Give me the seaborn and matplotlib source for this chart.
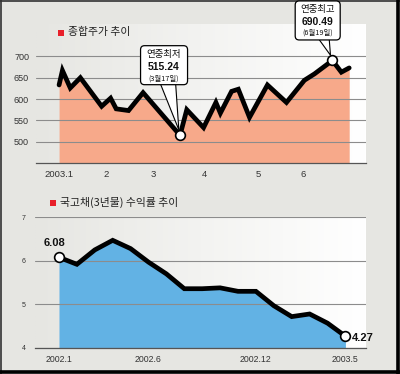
import numpy as np
import pandas as pd
import matplotlib
matplotlib.use('Agg')
import matplotlib.pyplot as plt
import seaborn as sns
from matplotlib.colors import LinearSegmentedColormap
from matplotlib.lines import Line2D
from matplotlib.patches import Rectangle, FancyBboxPatch
from matplotlib.transforms import IdentityTransform

# KOSPI 2003 (x = trading session counted from 2003.1.2)
kospi_session = [0, 1.5, 5, 9.5, 19, 23, 25.5, 31, 37.5, 52, 54, 57, 64.5, 70, 72,
                 77, 80, 85, 93, 101.5, 109.5, 114, 122, 126, 129.5]
kospi_value = [633, 667, 626, 650, 583, 602, 577, 573, 615, 527, 515.24, 575, 533, 592, 567,
               618, 623, 557, 633, 592, 644, 659, 690.49, 663, 673]
kospi_tick_pos = [0, 21, 42, 65, 89, 109]
kospi_tick_lab = ['2003.1', '2', '3', '4', '5', '6']
kospi_yticks = [500, 550, 600, 650, 700]

# 3-year treasury yield, monthly 2002.1 - 2003.5
bond_month = list(range(17))
bond_value = [6.08, 5.92, 6.25, 6.47, 6.28, 5.97, 5.70, 5.36, 5.36, 5.38, 5.30, 5.30,
              4.97, 4.72, 4.78, 4.57, 4.27]
bond_tick_pos = [0, 5, 11, 16]
bond_tick_lab = ['2002.1', '2002.6', '2002.12', '2003.5']
bond_yticks = [4, 5, 6, 7]

BG = '#e6e6e2'
NUM_FONT = ['Liberation Sans Narrow', 'Liberation Sans', 'DejaVu Sans']
KR_FONT = ['Noto Sans CJK KR', 'DejaVu Sans']

sns.set_style('white')
plt.rcParams['font.family'] = NUM_FONT

kospi = pd.DataFrame({'session': kospi_session, 'value': kospi_value})
bond = pd.DataFrame({'month': bond_month, 'value': bond_value})

fig = plt.figure(figsize=(4.0, 3.74), dpi=100, facecolor=BG)
grad = LinearSegmentedColormap.from_list('g', [BG, '#f3f3f1', '#ffffff'])


def px(x, y):
    return x / 400, 1 - y / 374


def base_axes(rect, xlim, ylim, yticks, tick_pos, tick_lab, xfs, yfs, ypad):
    ax = fig.add_axes(rect)
    ax.set_facecolor(BG)
    ax.imshow(np.linspace(0, 1, 256).reshape(1, -1), cmap=grad, extent=[0, 1, 0, 1],
              transform=ax.transAxes, aspect='auto', zorder=0)
    for s in ['top', 'left', 'right']:
        ax.spines[s].set_visible(False)
    ax.spines['bottom'].set_color('#555555')
    ax.spines['bottom'].set_linewidth(0.9)
    for v in yticks:
        ax.axhline(v, color='#8c8c8c', lw=0.8, zorder=2)
    ax.set_xlim(*xlim)
    ax.set_ylim(*ylim)
    ax.set_xticks(tick_pos)
    ax.set_xticklabels(tick_lab)
    ax.set_yticks(yticks)
    ax.set_yticklabels([str(v) for v in yticks])
    ax.tick_params(axis='x', direction='inout', length=4, width=0.8, color='#555555',
                   labelsize=xfs, labelcolor='#333333', pad=3)
    ax.tick_params(axis='y', length=0, labelsize=yfs, labelcolor='#333333', pad=ypad)
    return ax


def callout(ax, x, y, title, value, date, dx, dy, w, h, line_dy):
    # offsets in pixels from the marked point, box drawn in display space
    X, Y = ax.transData.transform((x, y))
    ax.annotate('', xy=(x, y), xytext=(X + dx, Y + dy), textcoords='figure pixels',
                arrowprops=dict(arrowstyle='wedge,tail_width=1.5,shrink_factor=0.5',
                                fc='white', ec='black', lw=0.8, shrinkA=0, shrinkB=4),
                annotation_clip=False, zorder=5)
    box = FancyBboxPatch((X + dx - w / 2, Y + dy - h / 2), w, h,
                         boxstyle='round,pad=0,rounding_size=4', transform=IdentityTransform(),
                         fc='white', ec='black', lw=0.9, zorder=6)
    fig.add_artist(box)
    for s, ddy, fs, fw, fam in [(title, line_dy[0], 6.8, 'normal', KR_FONT),
                                (value, line_dy[1], 7.5, 'bold', NUM_FONT),
                                (date, line_dy[2], 5.3, 'normal', KR_FONT)]:
        fig.text(X + dx, Y + ddy, s, transform=IdentityTransform(), ha='center', va='center',
                 fontsize=fs, fontweight=fw, family=fam, color='#111111', zorder=7)


# ---- top: KOSPI ----
ax1 = base_axes([36 / 400, 1 - 163 / 374, 330 / 400, 139 / 374], (-10.3, 137.0), (450, 776),
                kospi_yticks, kospi_tick_pos, kospi_tick_lab, 6.8, 6.5, 5)
ax1.fill_between(kospi['session'], kospi['value'], 450, color='#f7a98a', lw=0, zorder=1)
sns.lineplot(data=kospi, x='session', y='value', ax=ax1, color='black', lw=3.4,
             solid_joinstyle='miter', zorder=3, legend=False)
ax1.set_xlabel('')
ax1.set_ylabel('')
imin = kospi['value'].idxmin()
imax = kospi['value'].idxmax()
for i in [imin, imax]:
    ax1.plot([kospi.loc[i, 'session']], [kospi.loc[i, 'value']], 'o', ms=7, mfc='white',
             mec='black', mew=1.2, zorder=8, clip_on=False)
callout(ax1, kospi.loc[imin, 'session'], kospi.loc[imin, 'value'], '연중최저',
        f"{kospi.loc[imin, 'value']:.2f}", '(3월17일)', -16, 70, 47, 39, (81, 68.5, 57))
callout(ax1, kospi.loc[imax, 'session'], kospi.loc[imax, 'value'], '연중최고',
        f"{kospi.loc[imax, 'value']:.2f}", '(6월19일)', -14.7, 40, 45, 39, (51, 38.5, 27.5))

# ---- bottom: treasury yield ----
ax2 = base_axes([35 / 400, 1 - 348 / 374, 331 / 400, 131 / 374], (-1.34, 17.15), (4, 7.005),
                bond_yticks, bond_tick_pos, bond_tick_lab, 6.3, 5, 7)
ax2.fill_between(bond['month'], bond['value'], 4, color='#62b2e4', lw=0, zorder=1)
sns.lineplot(data=bond, x='month', y='value', ax=ax2, color='black', lw=3.4,
             solid_joinstyle='miter', zorder=3, legend=False)
ax2.set_xlabel('')
ax2.set_ylabel('')
for i in [0, len(bond) - 1]:
    ax2.plot([bond.loc[i, 'month']], [bond.loc[i, 'value']], 'o', ms=7, mfc='white',
             mec='black', mew=1.2, zorder=8, clip_on=False)
ax2.annotate(f"{bond_value[0]:.2f}", xy=(0, bond_value[0]), xytext=(-2.9, 10.6),
             textcoords='offset points', ha='center', va='center', fontsize=8,
             fontweight='bold', color='#111111', annotation_clip=False)
ax2.annotate(f"{bond_value[-1]:.2f}", xy=(16, bond_value[-1]), xytext=(5, -1.2),
             textcoords='offset points', ha='left', va='center', fontsize=8,
             fontweight='bold', color='#111111', annotation_clip=False)

# ---- titles ----
for (sx, sy), (tx, ty), label in [((61.3, 32.5), (68, 32), '종합주가 추이'),
                                  ((53.3, 202.5), (60, 202.5), '국고채(3년물) 수익률 추이')]:
    fig.patches.append(Rectangle(px(sx - 3, sy + 3), 6 / 400, 6 / 374, transform=fig.transFigure,
                                 facecolor='#e8202a', edgecolor='none'))
    fig.text(*px(tx, ty), label, ha='left', va='center', fontsize=7.8, family=KR_FONT,
             color='#222222')

# ---- frame ----
fig.add_artist(Line2D([0, 1], [1 - 0.8 / 374] * 2, transform=fig.transFigure, color='#333333', lw=1.2))
fig.add_artist(Line2D([0.8 / 400] * 2, [0, 1], transform=fig.transFigure, color='#333333', lw=1.2))
fig.add_artist(Line2D([398.2 / 400] * 2, [0, 1], transform=fig.transFigure, color='black', lw=2.6))
fig.add_artist(Line2D([0, 1], [1 - 372.4 / 374] * 2, transform=fig.transFigure, color='black', lw=2.6))

fig.savefig('out.png', dpi=100, facecolor=BG)
